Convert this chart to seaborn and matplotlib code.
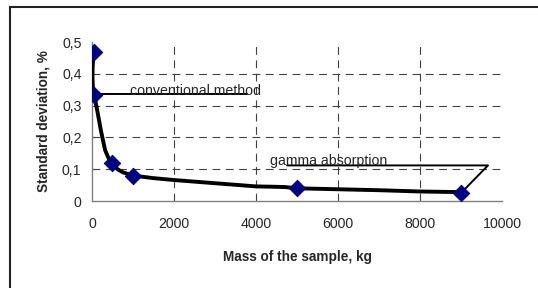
import numpy as np
import pandas as pd
import seaborn as sns
import matplotlib.pyplot as plt
from matplotlib.ticker import FuncFormatter
from matplotlib.patches import Rectangle

# measured points (markers)
mass = [50, 50, 500, 1000, 5000, 9000]
std_dev = [0.47, 0.335, 0.12, 0.08, 0.04, 0.025]

# hand-drawn trend curve
curve_x = [55, 30, 15, 12, 20, 50, 120, 220, 320, 420, 500, 620, 760, 1000, 1500, 2000,
           3000, 4000, 4400, 4700, 5000, 6000, 7000, 8000, 9000]
curve_y = [0.47, 0.45, 0.42, 0.39, 0.36, 0.335, 0.29, 0.22, 0.16, 0.13, 0.118, 0.1, 0.09,
           0.08, 0.072, 0.066, 0.056, 0.046, 0.045, 0.044, 0.04, 0.037, 0.034, 0.03, 0.028]

xticks = [0, 2000, 4000, 6000, 8000, 10000]
yticks = [0, 0.1, 0.2, 0.3, 0.4, 0.5]

pts = pd.DataFrame({"mass": mass, "sd": std_dev})
curve = pd.DataFrame({"mass": curve_x, "sd": curve_y})

sns.set_style("white")
plt.rcParams['font.family'] = ['Liberation Sans', 'DejaVu Sans']

fig = plt.figure(figsize=(5.38, 2.88), dpi=100)
ax = fig.add_axes([0.171, 0.302, 0.762, 0.552])

# outer chart frame (only top/left visible in the reference)
fig.patches.append(Rectangle((10 / 538, -0.1), 1.2, 1 - 6.5 / 288 + 0.1,
                             transform=fig.transFigure, fill=False,
                             edgecolor='#222222', lw=1.5))

sns.lineplot(data=curve, x="mass", y="sd", sort=False, color='black', lw=2.8, ax=ax, zorder=3)
sns.scatterplot(data=pts, x="mass", y="sd", marker='D', s=70, color='#000080',
                edgecolor='#000080', ax=ax, zorder=4)

# callouts
ax.plot([50, 3780], [0.336, 0.336], color='black', lw=1.4, zorder=2)
ax.text(930, 0.333, "conventional method", fontsize=10.2, va='baseline', ha='left')
ax.plot([9000, 9660, 4760], [0.025, 0.112, 0.112], color='black', lw=1.4, zorder=2)
ax.text(4340, 0.114, "gamma absorption", fontsize=10.2, va='baseline', ha='left')

ax.set_xlim(0, 10000)
ax.set_ylim(0, 0.5)
ax.set_xticks(xticks)
ax.set_yticks(yticks)
ax.xaxis.set_major_formatter(FuncFormatter(lambda v, p: f"{v:.0f}"))
ax.yaxis.set_major_formatter(FuncFormatter(lambda v, p: f"{v:g}".replace('.', ',')))

for v in xticks[1:-1]:
    ax.axvline(v, color='#404040', lw=0.8, dashes=(7, 5), zorder=1)
for v in yticks[1:-1]:
    ax.axhline(v, color='#404040', lw=0.8, dashes=(7, 5), zorder=1)

for s in ['top', 'right']:
    ax.spines[s].set_visible(False)
for s in ['left', 'bottom']:
    ax.spines[s].set_color('#808080')
    ax.spines[s].set_linewidth(1.0)
ax.tick_params(axis='both', direction='inout', length=5, width=1, color='#404040',
               labelsize=10.2)
ax.tick_params(axis='x', pad=9)
ax.tick_params(axis='y', pad=5)

ax.set_xlabel("Mass of the sample, kg", fontsize=9.8, fontweight='bold', labelpad=14)
ax.set_ylabel("Standard deviation, %", fontsize=9.8, fontweight='bold', labelpad=8)

fig.savefig("out.png", dpi=100)
